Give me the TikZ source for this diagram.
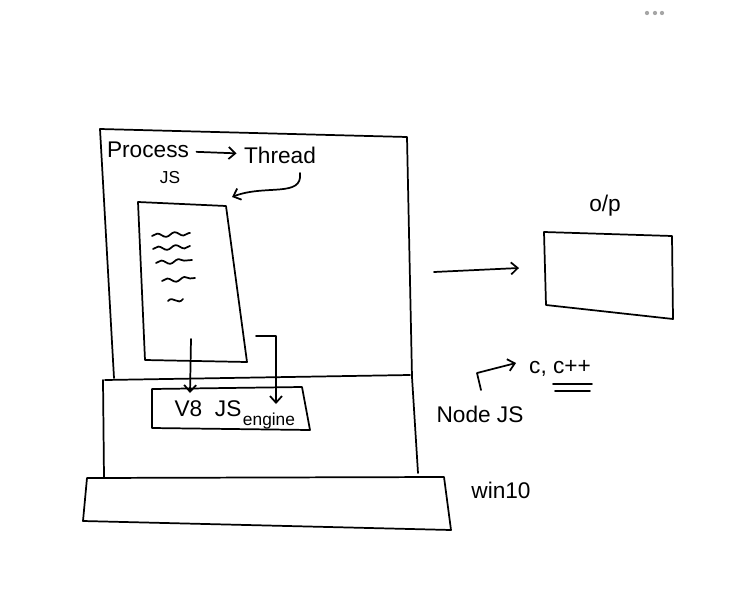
\documentclass[tikz,border=0pt]{standalone}
\usepackage{fontspec}
\setmainfont{Liberation Sans}
\usetikzlibrary{arrows.meta,decorations.pathmorphing}

\tikzset{%
  every sketch/.style={
    line width=1.3pt,
    line join=round,
    line cap=round
  },
  hand label/.style={
    inner sep=1pt,
    font=\fontsize{17}{19}\selectfont
  },
  small label/.style={
    inner sep=1pt,
    font=\fontsize{13}{15}\selectfont
  },
  squiggle/.style={
    decorate,
    decoration={snake, amplitude=1.5pt, segment length=13pt}
  },
}

\begin{document}
\begin{tikzpicture}[x=0.75pt, y=-0.75pt, >={Straight Barb[length=5pt,width=9pt]}, every sketch]
\useasboundingbox (0,0) rectangle (732,600);

% menu dots
\foreach \x in {647,655,662}
  \fill [gray!70] (\x,13) circle (1.6pt);

% process box
\coordinate (proc-tl) at (100,129);
\coordinate (proc-tr) at (407,137);
\coordinate (proc-br) at (412,377);
\coordinate (proc-bl) at (114,378);
\draw (proc-bl) -- (proc-tl) -- (proc-tr) -- (proc-br) -- (418,473);
\draw (105,380) -- (410,375);
\draw (103,380) -- (104,478);

% win10 box
\draw (87,478) -- (444,477) -- (451,530) -- (83,521) -- cycle;

% script box
\draw (138,202) -- (226,206) -- (247,362) -- (145,360) -- cycle;
\foreach \x/\y/\w in {152/236/38, 153/249/37, 156/263/36, 162/281/33}
  \draw [squiggle] (\x,\y) -- ++(\w,-3);
\draw (168,301) .. controls (173,295) and (178,306) .. (183,299);

% V8 box
\draw (152,389) -- (302,387) -- (310,430) -- (152,428) -- cycle;
\node [hand label] (v8) at (208,409) {V8\ \ JS};
\node [small label] (engine) at (269,421) {engine};

% labels
\node [hand label] (process) at (148,150) {Process};
\node [hand label] (thread) at (280,155) {Thread};
\node [small label] (js) at (170,178) {JS};
\node [hand label] (op) at (605,206) {o/p};
\node [hand label] (nodejs) at (480,414) {Node JS};
\node [hand label, anchor=west] (lang) at (527,368) {c, c++};
\node [hand label] (win) at (501,490) {win10};

% connector ends
\coordinate (thread-down) at (300,173);
\coordinate (script-in) at (232,197);
\coordinate (script-out-1) at (191,339);
\coordinate (v8-in-1) at (190,393);
\coordinate (script-out-2) at (256,336);
\coordinate (v8-in-2) at (276,404);
\coordinate (proc-out) at (434,272);
\coordinate (op-in) at (519,268);
\coordinate (nodejs-up) at (481,390);
\coordinate (lang-in) at (516,363);

% o/p box
\draw (544,232) -- (672,236) -- (673,319) -- (546,305) -- cycle;

% arrows
\draw [->, shorten <=4pt, shorten >=4pt] (process) -- (thread);
\draw [->] (thread-down) .. controls (303,198) and (265,184) .. (script-in);
\draw [->] (script-out-1) -- (v8-in-1);
\draw [->] (script-out-2) -| (v8-in-2);
\draw [->] (proc-out) -- (op-in);
\draw [->] (nodejs-up) -- (477,373) -- (lang-in);

% double underline
\draw (553,384) -- (592,384);
\draw (555,391) -- (590,391);

\end{tikzpicture}
\end{document}
